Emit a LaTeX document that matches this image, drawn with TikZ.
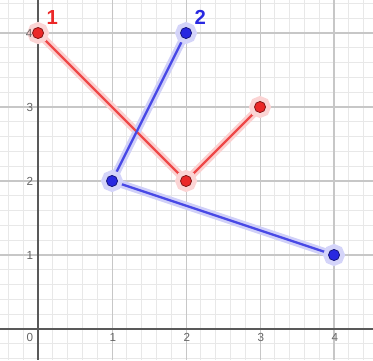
\documentclass[tikz,border=0pt]{standalone}
\usepackage{fontspec}
\setmainfont{Liberation Sans}
\usepackage{xcolor}
\usetikzlibrary{positioning}

\definecolor{ggred}{RGB}{235,40,40}
\definecolor{ggblue}{RGB}{40,40,225}

\begin{document}
\begin{tikzpicture}[
    minorgrid/.style={draw=black!9, line width=0.3pt},
    majorgrid/.style={draw=black!22, line width=0.4pt},
    axisline/.style={draw=black!65, line width=0.6pt},
    ticklabel/.style={text=black!60, font=\fontsize{4.5}{5}\selectfont, inner sep=0pt},
    glow/.style={draw=#1!22, line width=3pt, line cap=round},
    seg/.style={draw=#1!85!white, line width=0.9pt, line cap=round},
    dot/.style={circle, inner sep=0pt, minimum size=0.15cm, fill=#1, draw=#1!55!black,
                line width=0.3pt, preaction={draw=#1!20, line width=0.14cm}},
    tag/.style={text=#1, font=\bfseries\fontsize{7.8}{8}\selectfont, inner sep=0pt}
  ]
  \useasboundingbox (-0.514,-0.419) rectangle (4.527,4.446);

  % grid and axes
  \draw[minorgrid] (-0.514,-0.419) grid[step=0.2] (4.527,4.446);
  \draw[majorgrid] (-0.514,-0.419) grid[step=1] (4.527,4.446);
  \draw[axisline] (-0.514,0) -- (4.527,0);
  \draw[axisline] (0,-0.419) -- (0,4.446);

  % polyline 1
  \coordinate (r0) at (0,4);
  \coordinate (r1) at (2,2);
  \coordinate (r2) at (3,3);
  % polyline 2
  \coordinate (b0) at (2,4);
  \coordinate (b1) at (1,2);
  \coordinate (b2) at (4,1);

  \draw[glow=ggred] (r0) -- (r1) -- (r2);
  \draw[glow=ggblue] (b0) -- (b1) -- (b2);
  \draw[seg=ggred] (r0) -- (r1) -- (r2);
  \draw[seg=ggblue] (b0) -- (b1) -- (b2);

  \foreach \p in {r0,r1,r2} \node[dot=ggred] at (\p) {};
  \foreach \p in {b0,b1,b2} \node[dot=ggblue] at (\p) {};

  \node[tag=ggred, above right=0.11cm and 0.11cm of r0] (lab1) {1};
  \node[tag=ggblue, above right=0.11cm and 0.11cm of b0] (lab2) {2};

  % tick labels
  \node[ticklabel] (x0) at (-0.11,-0.11) {0};
  \node[ticklabel] (x1) at (1.01,-0.11) {1};
  \node[ticklabel] (x2) at (2.01,-0.11) {2};
  \node[ticklabel] (x3) at (3.01,-0.11) {3};
  \node[ticklabel] (x4) at (4.01,-0.11) {4};
  \node[ticklabel] (y1) at (-0.11,1) {1};
  \node[ticklabel] (y2) at (-0.11,2) {2};
  \node[ticklabel] (y3) at (-0.11,3) {3};
  \node[ticklabel] (y4) at (-0.12,4) {4};
\end{tikzpicture}
\end{document}
